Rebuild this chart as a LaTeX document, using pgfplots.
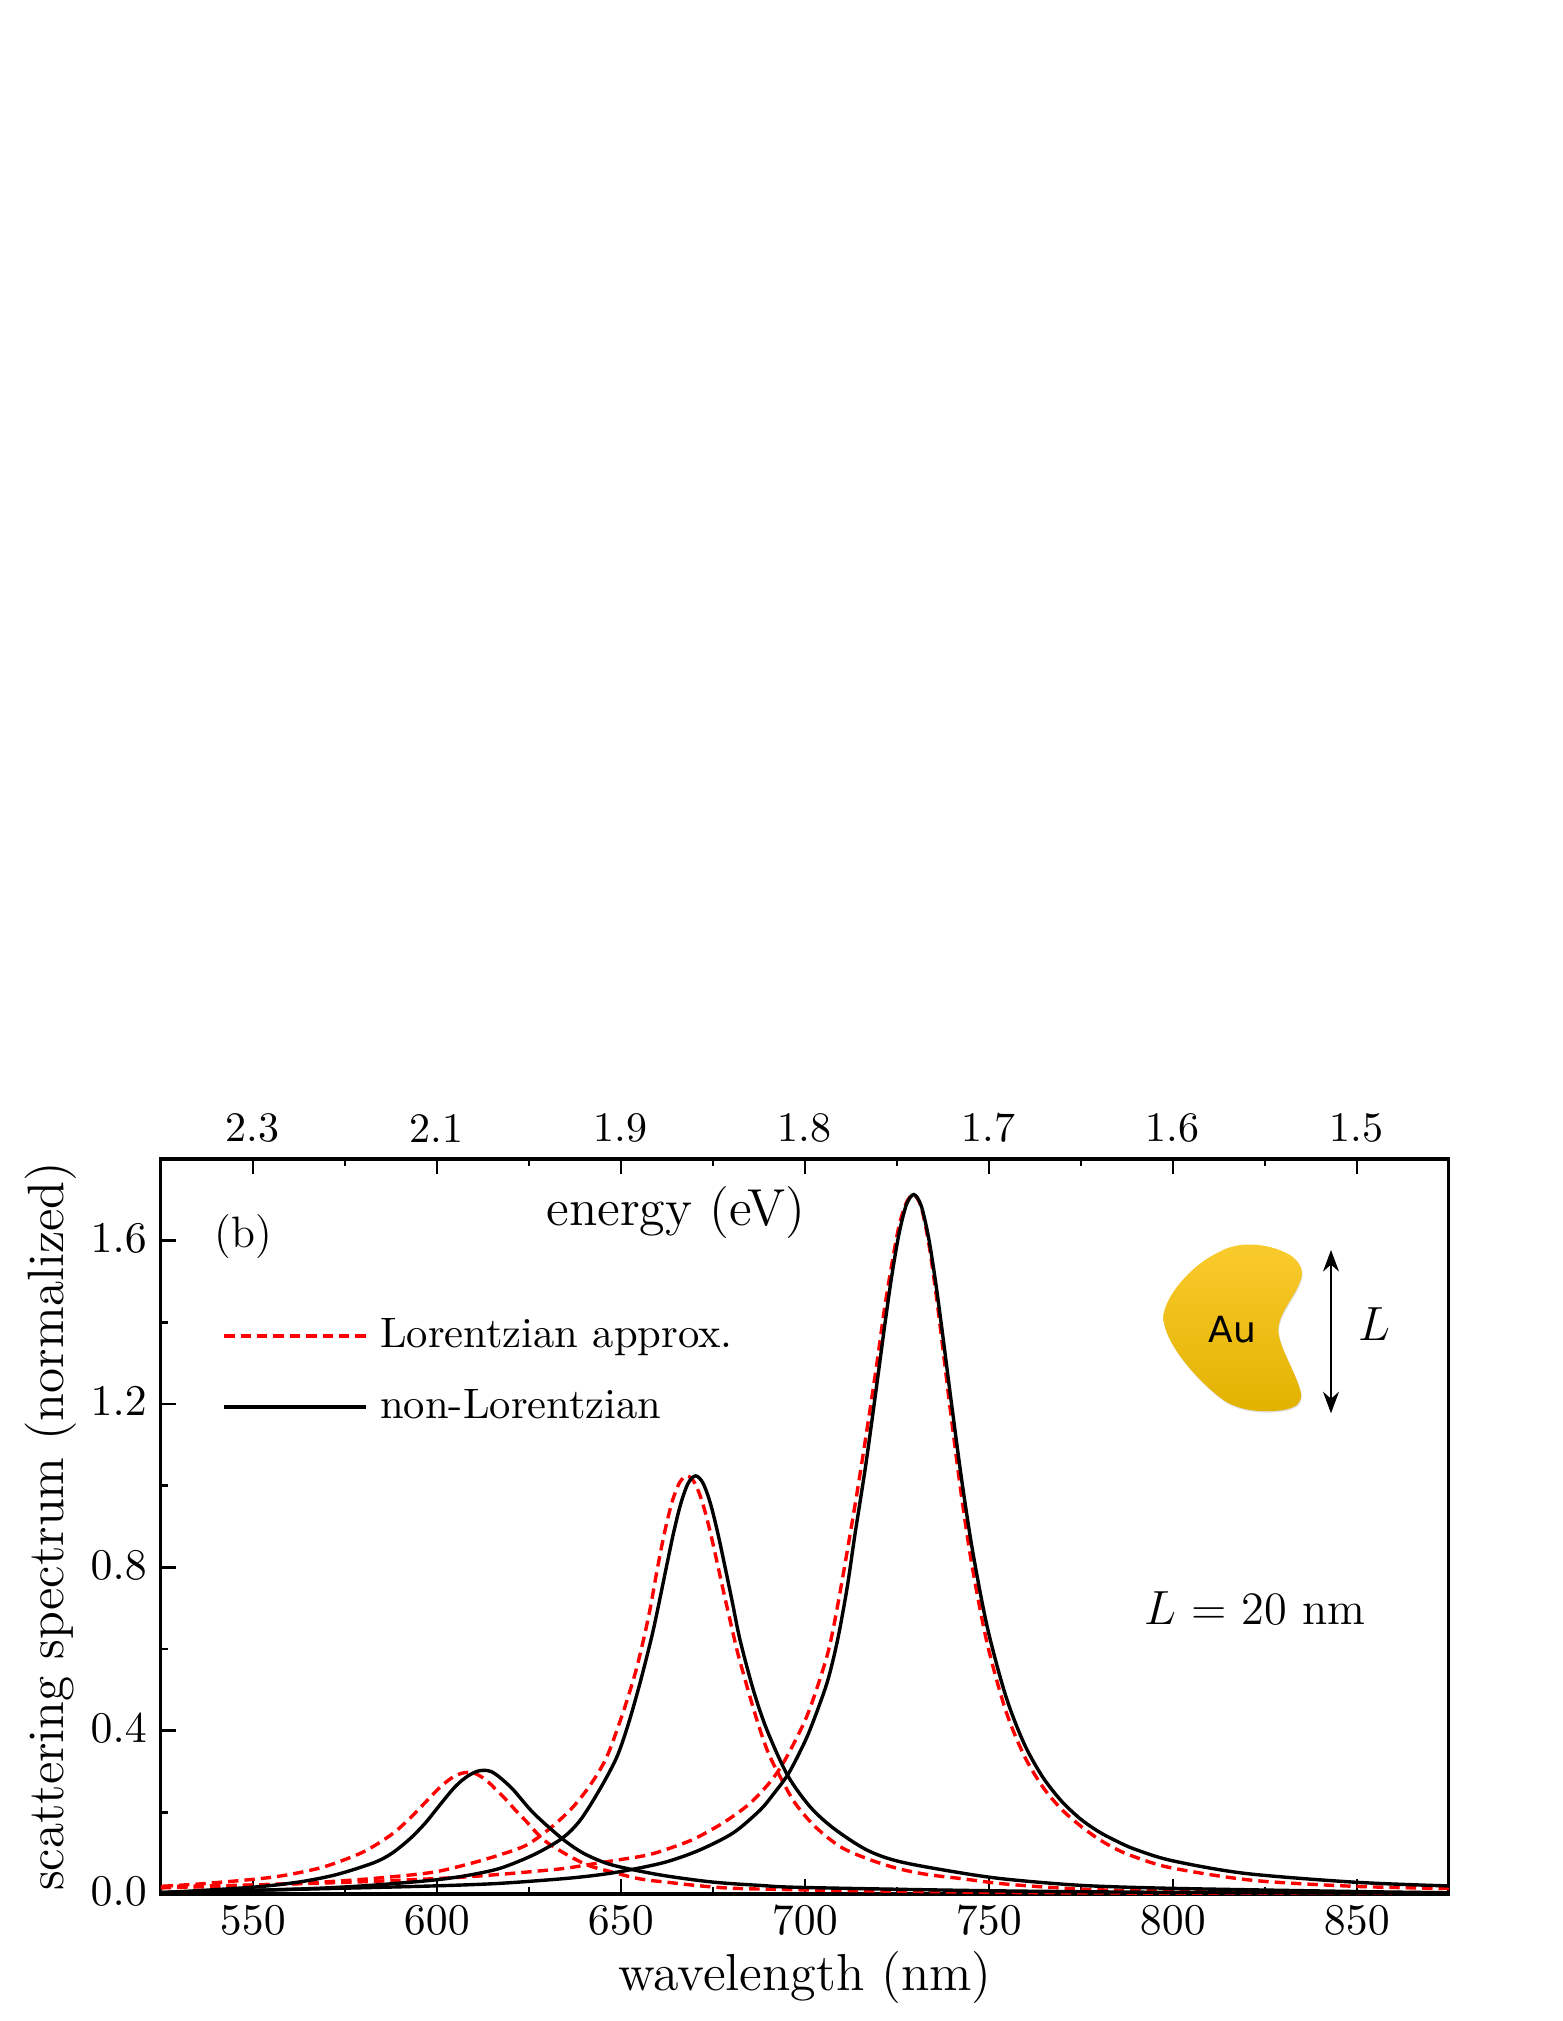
\documentclass[border=0pt]{standalone}
\usepackage{fontspec}
\usepackage{pgfplots}
\pgfplotsset{compat=1.18}
\usetikzlibrary{arrows.meta}
\newfontfamily\aufont{DejaVu Sans}
\definecolor{lred}{RGB}{255,0,0}
\pgfplotsset{
  lor/.style={lred, line width=0.85pt, dash pattern=on 2.6pt off 1.5pt, smooth, tension=0.5},
  nonlor/.style={black, line width=0.85pt, smooth, tension=0.5},
}
\begin{document}
\begin{tikzpicture}
\useasboundingbox (0,0) rectangle (390.5pt,505.25pt);
% energy scale on top
\begin{axis}[
  at={(40.2pt,31.75pt)}, anchor=south west,
  scale only axis, width=322pt, height=183.75pt,
  xmin=525, xmax=875, ymin=0, ymax=1.8,
  axis x line*=top, axis y line=none,
  xtick={550,600,650,700,750,800,850},
  xticklabels={2.3,2.1,1.9,1.8,1.7,1.6,1.5},
  minor x tick num=1,
  axis line style={line width=0.8pt},
  tick style={black, line width=0.6pt},
  major tick length=3.75pt, minor tick length=1.8pt,
  ticklabel style={font=\fontsize{10.5}{12}\selectfont},
  xticklabel style={yshift=0.6pt},
]
\end{axis}
\begin{axis}[
  at={(40.2pt,31.75pt)}, anchor=south west,
  scale only axis, width=322pt, height=183.75pt,
  xmin=525, xmax=875, ymin=0, ymax=1.8,
  xtick={550,600,650,700,750,800,850},
  ytick={0,0.4,0.8,1.2,1.6},
  minor x tick num=1, minor y tick num=1,
  xtick pos=bottom, ytick pos=left,
  axis line style={line width=0.8pt},
  tick style={black, line width=0.6pt},
  major tick length=3.75pt, minor tick length=1.8pt,
  ticklabel style={font=\fontsize{10.5}{12}\selectfont},
  xticklabel style={yshift=0.5pt},
  yticklabel style={yshift=0.6pt, /pgf/number format/fixed, /pgf/number format/fixed zerofill, /pgf/number format/precision=1},
  xlabel={wavelength (nm)}, ylabel={scattering spectrum (normalized)},
  label style={font=\fontsize{13}{15}\selectfont},
  xlabel style={yshift=2.6pt},
  ylabel style={yshift=-3.3pt, font=\fontsize{12.8}{15}\selectfont},
  legend style={draw=none, fill=none, at={(0.038,0.806)}, anchor=north west,
    font=\fontsize{10.65}{13}\selectfont, row sep=5pt,
    /tikz/every even column/.append style={column sep=0pt}},
  legend cell align=left,
  legend image code/.code={\path[draw=none] (0pt,0pt) -- (37pt,0pt); \draw[#1, sharp plot] (0pt,0pt) -- (35.5pt,0pt);},
]
\addplot[lor] coordinates {(525,.018)(550,.022)(580,.030)(604.6,.040)(617,.048)(626,.055)(635,.063)(642.6,.074)(649,.083)(658,.097)(667,.124)(671.5,.142)(678.3,.177)(685.1,.222)(691,.279)(695.1,.336)(700.5,.434)(704.6,.54)(706.9,.614)(709.6,.74)(713.6,.95)(716.6,1.12)(719.6,1.30)(721.6,1.43)(723.6,1.54)(725.6,1.636)(727.6,1.693)(729.6,1.713)(731.6,1.683)(733.6,1.598)(735.6,1.474)(737.6,1.33)(739.6,1.181)(742.6,.973)(745.6,.796)(749.6,.612)(754.6,.449)(759.6,.339)(764.6,.263)(769.6,.209)(774.6,.169)(779.6,.136)(784.6,.11)(789.6,.091)(799.6,.064)(821.6,.0336)(849.6,.0187)(875,.0135)};
\addlegendentry{Lorentzian approx.}
\addplot[lor, forget plot] coordinates {(525,.015)(538,.018)(562,.026)(580,.036)(598,.052)(608,.072)(617.2,.096)(624.4,.12)(630.8,.161)(636.7,.21)(641.7,.267)(646.2,.336)(650.7,.447)(653.9,.54)(656.1,.62)(658,.70)(660,.80)(662,.89)(664,.962)(666,1.008)(668,1.024)(670,1.008)(672,.964)(674,.898)(676,.819)(678,.737)(681.5,.60)(683.3,.54)(685.1,.483)(687.4,.414)(690.1,.345)(693.3,.287)(697.4,.222)(702.8,.165)(709.6,.116)(716.8,.087)(725,.063)(733.1,.048)(742.2,.038)(755,.024)(775,.012)(800,.007)(875,.003)};
\addplot[lor, forget plot] coordinates {(525.5,.019)(537.5,.026)(555.5,.0414)(568.5,.0644)(578.5,.0968)(583.5,.1206)(588.5,.1512)(592.5,.1838)(595.5,.2113)(598.5,.2397)(600.5,.258)(602.5,.274)(604.5,.2868)(606.5,.295)(608.5,.298)(610.5,.2946)(612.5,.2848)(614.5,.27)(616.5,.2515)(618.1,.238)(621.3,.206)(624,.181)(627.2,.149)(630.3,.124)(636.2,.092)(641.2,.07)(647.1,.055)(655.2,.037)(663.4,.028)(671.5,.02)(680.6,.014)(700.5,.01)(750.5,.004)(800.5,.002)(875,.001)};
\addplot[nonlor] coordinates {(525,.004)(550,.009)(574,.014)(600,.020)(617,.026)(635,.038)(645,.048)(653,.06)(662.5,.079)(671.5,.108)(680.6,.15)(687.9,.206)(691.5,.245)(695.3,.291)(698.5,.345)(701.4,.402)(706,.516)(708.9,.622)(711.5,.75)(713.6,.879)(716.6,1.053)(719.6,1.25)(721.6,1.385)(723.6,1.512)(725.6,1.617)(727.6,1.688)(729.6,1.713)(731.6,1.686)(733.6,1.609)(735.6,1.495)(737.6,1.36)(739.6,1.219)(742.6,1.016)(745.6,.84)(749.6,.653)(754.6,.485)(759.6,.368)(764.6,.287)(769.6,.229)(774.6,.186)(779.6,.154)(784.6,.13)(789.6,.11)(799.6,.082)(819.6,.0505)(849.6,.0288)(875,.0197)};
\addlegendentry{non-Lorentzian}
\addplot[nonlor, forget plot] coordinates {(525,.003)(562,.012)(580,.02)(598,.033)(608,.045)(617.2,.063)(626.3,.096)(634,.136)(639,.181)(644.4,.258)(648.9,.335)(652,.415)(655.2,.516)(658.4,.63)(660.3,.709)(662.3,.797)(664.3,.883)(666.3,.956)(668.3,1.006)(670.3,1.024)(672.3,1.007)(674.3,.958)(676.3,.886)(678.3,.802)(680.3,.715)(682.4,.622)(686,.5)(689.7,.402)(695.3,.291)(701.4,.214)(707.8,.161)(716.8,.108)(725.9,.079)(742.2,.052)(755,.036)(775.3,.021)(800,.0138)(850,.006)(875,.003)};
\addplot[nonlor, forget plot] coordinates {(525,.003)(549.8,.0165)(562.8,.0297)(572.8,.0477)(582.8,.0763)(587.8,.0997)(592.8,.136)(596.8,.173)(599.8,.2064)(602.8,.24)(604.8,.261)(606.8,.278)(608.8,.291)(610.8,.300)(612.8,.303)(614.8,.2997)(617.2,.285)(620.8,.255)(626.3,.198)(634,.136)(639.8,.1)(646.2,.075)(653,.06)(662.5,.044)(675.2,.029)(687.9,.021)(699.6,.016)(750,.008)(800,.004)(875,.002)};
\node[font=\fontsize{11}{13}\selectfont] at (axis cs:547.5,1.609) {(b)};
\node[font=\fontsize{13}{15}\selectfont] at (axis cs:665,1.668) {energy (eV)};
\node[font=\fontsize{11.6}{14}\selectfont] at (axis cs:822.3,0.70) {$L$ = 20 nm};
\end{axis}
% gold particle, coordinates are pixels of the inset
\begin{scope}[shift={(275pt,205.25pt)}, x=0.08333pt, y=-0.08333pt]
\fill[black!25, opacity=0.5] (192,354) .. controls (197,289) and (282,194) .. (362,159) .. controls (412,129) and (502,129) .. (572,169) .. controls (602,189) and (617,219) .. (602,249) .. controls (587,294) and (537,344) .. (537,394) .. controls (537,444) and (592,524) .. (605,584) .. controls (607,614) and (592,624) .. (562,632) .. controls (502,644) and (422,639) .. (372,604) .. controls (302,554) and (192,434) .. (192,354) -- cycle;
\shade[top color={rgb,255:red,250;green,203;blue,45}, middle color={rgb,255:red,254;green,203;blue,10}, bottom color={rgb,255:red,226;green,178;blue,0}]
 (190,350) .. controls (195,285) and (280,190) .. (360,155) .. controls (410,125) and (500,125) .. (570,165) .. controls (600,185) and (615,215) .. (600,245) .. controls (585,290) and (535,340) .. (535,390) .. controls (535,440) and (590,520) .. (603,580) .. controls (605,610) and (590,620) .. (560,628) .. controls (500,640) and (420,635) .. (370,600) .. controls (300,550) and (190,430) .. (190,350) -- cycle;
\node[font=\aufont\fontsize{9}{10}\selectfont] at (397,388) {Au};
\draw[line width=0.4pt, {Stealth[length=5.4pt,width=4pt]}-{Stealth[length=5.4pt,width=4pt]}] (693,150) -- (693,640);
\node[font=\fontsize{12}{14}\selectfont] at (822,372) {$L$};
\end{scope}
\end{tikzpicture}
\end{document}
